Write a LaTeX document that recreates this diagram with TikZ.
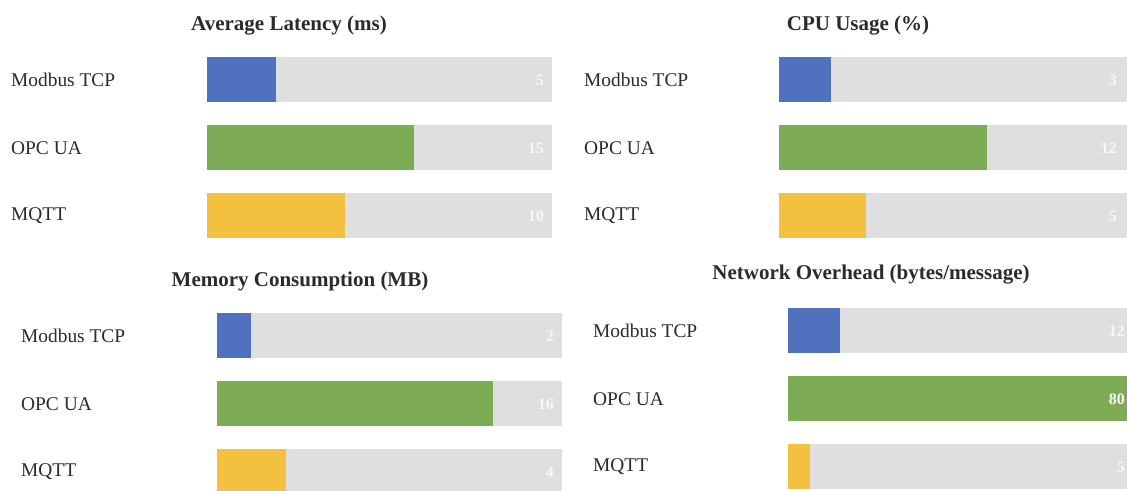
\documentclass[tikz,border=0pt]{standalone}
\usepackage{fontspec}
\setmainfont{Liberation Serif}
\usepackage{tikz}
\definecolor{modbusblue}{HTML}{4F71BE}
\definecolor{opcgreen}{HTML}{7EAB55}
\definecolor{mqttyellow}{HTML}{F3C13F}
\definecolor{trackgray}{HTML}{DFDFDF}
\definecolor{inkgray}{HTML}{2B2B2B}

\begin{document}
\begin{tikzpicture}[x=1pt, y=-1pt,
  paneltitle/.style={font=\fontsize{21}{24}\selectfont\bfseries, text=inkgray, inner sep=0pt},
  protolabel/.style={font=\fontsize{19.4}{22}\selectfont, text=inkgray, anchor=west, inner sep=0pt},
  barvalue/.style={font=\fontsize{16}{18}\selectfont\bfseries, text=white!97!black, anchor=east, inner sep=0pt}]
\useasboundingbox[fill=white] (0,0) rectangle (1127,490);

% average latency, max 25
\node[paneltitle] (lat-title) at (289,26) {Average Latency (ms)};
\foreach \row/\proto/\val/\col [count=\i] in {57/Modbus TCP/5/modbusblue, 125/OPC UA/15/opcgreen, 193/MQTT/10/mqttyellow} {
  \node[protolabel] (lat-lab-\i) at (11,\row+23) {\proto};
  \fill[trackgray] (207,\row) rectangle (552,\row+45);
  \fill[\col] (207,\row) rectangle (207+\val/25*345,\row+45);
  \node[barvalue] (lat-val-\i) at (544,\row+23) {\val};
}

% cpu usage, max 20
\node[paneltitle] (cpu-title) at (858,26) {CPU Usage (\%)};
\foreach \row/\proto/\val/\col [count=\i] in {57/Modbus TCP/3/modbusblue, 125/OPC UA/12/opcgreen, 193/MQTT/5/mqttyellow} {
  \node[protolabel] (cpu-lab-\i) at (584,\row+23) {\proto};
  \fill[trackgray] (779,\row) rectangle (1127,\row+45);
  \fill[\col] (779,\row) rectangle (779+\val/20*346,\row+45);
  \node[barvalue] (cpu-val-\i) at (1117,\row+23) {\val};
}

% memory consumption, max 20
\node[paneltitle] (mem-title) at (300,281) {Memory Consumption (MB)};
\foreach \row/\proto/\val/\col [count=\i] in {313/Modbus TCP/2/modbusblue, 381/OPC UA/16/opcgreen, 449/MQTT/4/mqttyellow} {
  \node[protolabel] (mem-lab-\i) at (21,\row+23) {\proto};
  \fill[trackgray] (217,\row) rectangle (562,\row+45);
  \fill[\col] (217,\row) rectangle (217+\val/20*345,\row+45);
  \node[barvalue] (mem-val-\i) at (554,\row+23) {\val};
}

% network overhead, max 80
\node[paneltitle] (net-title) at (871,275) {Network Overhead (bytes/message)};
\foreach \row/\proto/\val/\col [count=\i] in {308/Modbus TCP/12/modbusblue, 376/OPC UA/80/opcgreen, 444/MQTT/5/mqttyellow} {
  \node[protolabel] (net-lab-\i) at (593,\row+23) {\proto};
  \fill[trackgray] (788,\row) rectangle (1137,\row+45);
  \fill[\col] (788,\row) rectangle (788+\val/80*349,\row+45);
  \node[barvalue] (net-val-\i) at (1125,\row+23) {\val};
}
\end{tikzpicture}
\end{document}
